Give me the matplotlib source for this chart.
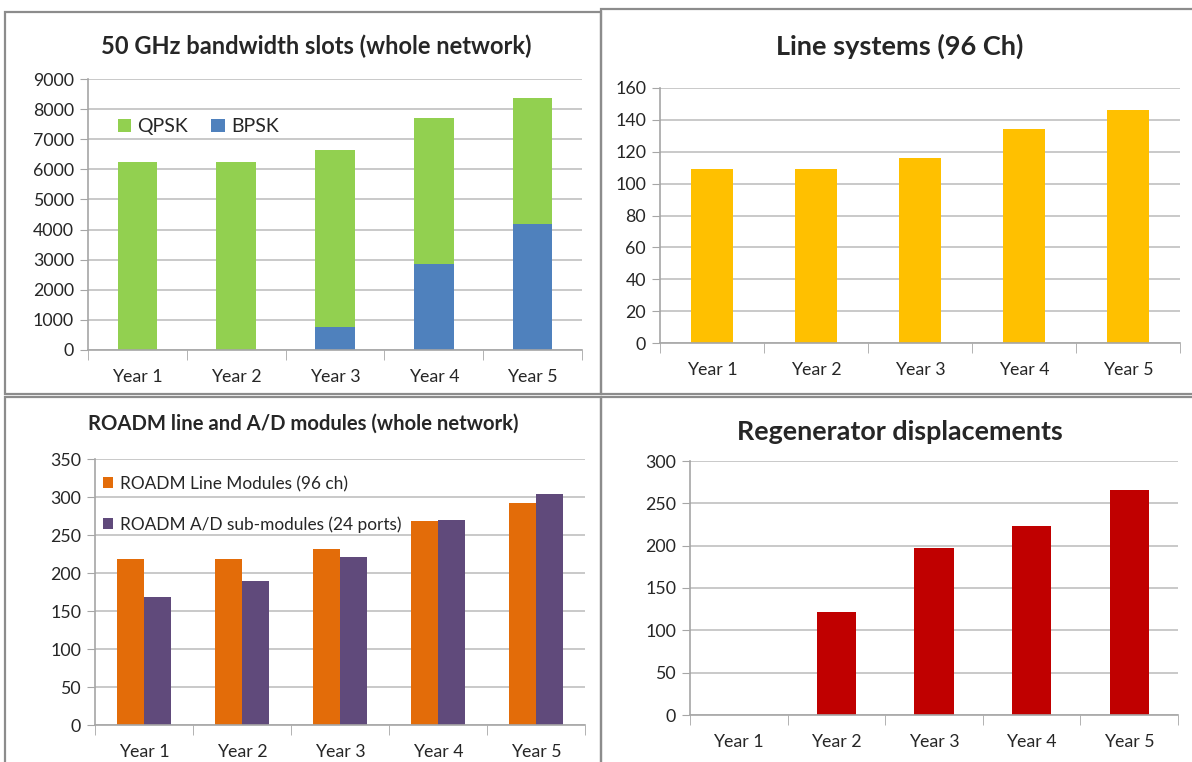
import numpy as np
import matplotlib.pyplot as plt
from matplotlib.patches import Rectangle

plt.rcParams['font.family'] = ['Lato', 'DejaVu Sans']

years = ["Year 1", "Year 2", "Year 3", "Year 4", "Year 5"]

# 50 GHz slots, stacked
bpsk = [0, 0, 780, 2870, 4200]
qpsk = [6230, 6230, 5850, 4850, 4160]

line_systems = [109, 109, 116, 134, 146]

roadm_line = [218, 218, 232, 268, 292]
roadm_ad = [168, 190, 221, 270, 304]

regen = [0, 122, 197, 223, 266]

W, H = 1192, 762
fig = plt.figure(figsize=(W / 100, H / 100), dpi=100)

GRID = "#c0c0c0"
SPINE = "#a6a6a6"
TXT = "#262626"


def px_axes(left, top, right, bottom):
    return fig.add_axes([left / W, 1 - bottom / H, (right - left) / W, (bottom - top) / H])


def excel_style(ax, ymax, step):
    x = np.arange(len(years))
    ax.set_xlim(-0.5, len(years) - 0.5)
    ax.set_ylim(0, ymax)
    ax.set_yticks(np.arange(0, ymax + step / 2, step))
    ax.set_xticks(x)
    ax.set_xticklabels(years)
    ax.set_xticks(np.arange(-0.5, len(years)), minor=True)
    ax.tick_params(axis='x', which='major', length=0, pad=14, labelsize=12.8, labelcolor=TXT)
    ax.tick_params(axis='x', which='minor', length=7, color=SPINE, direction='out')
    ax.tick_params(axis='y', length=6, color=SPINE, labelsize=12.8, labelcolor=TXT, pad=4)
    ax.grid(axis='y', color=GRID, linewidth=1.2)
    ax.set_axisbelow(True)
    for s in ['top', 'right']:
        ax.spines[s].set_visible(False)
    for s in ['left', 'bottom']:
        ax.spines[s].set_color(SPINE)
        ax.spines[s].set_linewidth(1.2)
    return x


# panel frames
for (l, t, r, b) in [(5, 12, 601, 394), (601, 9, 1195, 394), (5, 397, 601, 765), (601, 397, 1195, 765)]:
    fig.patches.append(Rectangle((l / W, 1 - b / H), (r - l) / W, (b - t) / H,
                                 transform=fig.transFigure, fill=False,
                                 edgecolor="#8c8c8c", linewidth=1.6))

# top left: bandwidth slots
ax1 = px_axes(88, 79, 582, 350)
x = excel_style(ax1, 9000, 1000)
ax1.bar(x, qpsk, 0.4, bottom=bpsk, color="#92d050", label="QPSK")
ax1.bar(x, bpsk, 0.4, color="#4f81bd", label="BPSK")
ax1.legend(loc='upper left', bbox_to_anchor=(0.025, 0.92), ncol=2, frameon=False,
           fontsize=14, handlelength=0.7, handleheight=0.7, handletextpad=0.3,
           columnspacing=1.2, labelcolor=TXT)
fig.text(316 / W, 1 - 46 / H, "50 GHz bandwidth slots (whole network)", ha='center', va='center',
         fontsize=17, fontweight='bold', color=TXT)

# top right: line systems
ax2 = px_axes(660, 88, 1180, 343)
x = excel_style(ax2, 160, 20)
ax2.bar(x, line_systems, 0.4, color="#ffc000")
fig.text(900 / W, 1 - 46 / H, "Line systems (96 Ch)", ha='center', va='center',
         fontsize=19.5, fontweight='bold', color=TXT)

# bottom left: ROADM modules
ax3 = px_axes(95, 459, 585, 725)
x = excel_style(ax3, 350, 50)
bw = 0.28
ax3.bar(x - bw / 2, roadm_line, bw, color="#e36c09", label="ROADM Line Modules (96 ch)")
ax3.bar(x + bw / 2, roadm_ad, bw, color="#604a7b", label="ROADM A/D sub-modules (24 ports)")
ax3.legend(loc='upper left', bbox_to_anchor=(-0.015, 0.995), frameon=False,
           fontsize=12.4, handlelength=0.6, handleheight=0.6, handletextpad=0.35,
           labelspacing=1.4, labelcolor=TXT)
fig.text(303 / W, 1 - 424 / H, "ROADM line and A/D modules (whole network)", ha='center', va='center',
         fontsize=14.6, fontweight='bold', color=TXT)

# bottom right: regenerators
ax4 = px_axes(690, 461, 1178, 715)
x = excel_style(ax4, 300, 50)
ax4.bar(x, regen, 0.4, color="#c00000")
fig.text(900 / W, 1 - 432 / H, "Regenerator displacements", ha='center', va='center',
         fontsize=19.4, fontweight='bold', color=TXT)

fig.savefig("out.png", dpi=100)
